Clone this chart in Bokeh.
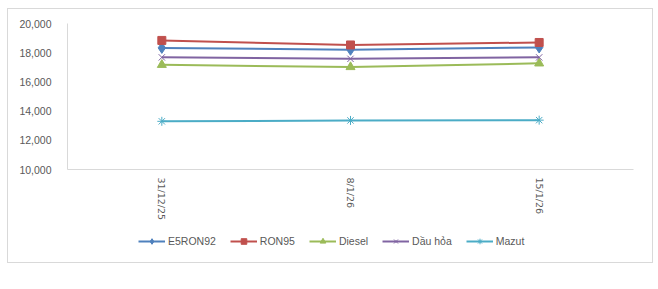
from bokeh.plotting import figure
from bokeh.layouts import column
from bokeh.models import FactorRange, Range1d, FixedTicker, NumeralTickFormatter, Legend, LegendItem
from bokeh.embed import file_html
from bokeh.resources import INLINE

dates = ["31/12/25", "8/1/26", "15/1/26"]
e5ron92 = [18330, 18200, 18360]
ron95 = [18840, 18530, 18700]
diesel = [17170, 17020, 17270]
dau_hoa = [17680, 17580, 17680]
mazut = [13300, 13360, 13380]
y_ticks = [10000, 12000, 14000, 16000, 18000, 20000]

series = [
    ("E5RON92", e5ron92, "#4F81BD", "diamond", 11),
    ("RON95", ron95, "#C0504D", "square", 8),
    ("Diesel", diesel, "#9BBB59", "triangle", 9),
    ("Dầu hỏa", dau_hoa, "#8064A2", "x", 9),
    ("Mazut", mazut, "#4BACC6", "asterisk", 9),
]

p = figure(width=644, height=220, x_range=FactorRange(*dates), y_range=Range1d(10000, 20000),
           output_backend="svg", toolbar_location=None,
           min_border_left=59, min_border_right=19, min_border_top=14, min_border_bottom=60)
p.outline_line_color = None
p.xgrid.visible = False
p.ygrid.visible = False

# legend strip below the chart (its renderers sit outside its visible range)
p2 = figure(width=644, height=33, x_range=Range1d(0, 1), y_range=Range1d(0, 1),
            output_backend="svg", toolbar_location=None, x_axis_type=None, y_axis_type=None,
            min_border=0)
p2.outline_line_color = None
p2.xgrid.visible = False
p2.ygrid.visible = False

items = []
for name, vals, color, marker, size in series:
    p.line(dates, vals, line_color=color, line_width=2)
    kw = dict(marker=marker, size=size, line_color=color)
    if marker in ("x", "asterisk"):
        kw.update(line_width=1, fill_color=None)
    else:
        kw.update(fill_color=color)
    p.scatter(dates, vals, **kw)
    lr2 = p2.line(x=vals, y=vals, line_color=color, line_width=2)
    sr2 = p2.scatter(x=vals, y=vals, **{**kw, "size": min(size, 7)})
    items.append(LegendItem(label=name, renderers=[lr2, sr2]))

p.yaxis.ticker = FixedTicker(ticks=y_ticks)
p.yaxis.formatter = NumeralTickFormatter(format="0,0")
for ax in (p.xaxis[0], p.yaxis[0]):
    ax.axis_line_color = "#D9D9D9"
    ax.major_tick_line_color = None
    ax.minor_tick_line_color = None
    ax.major_tick_out = 0
    ax.major_label_text_color = "#595959"
p.yaxis.major_label_text_font = "Liberation Sans"
p.yaxis.major_label_text_font_size = "10.5px"
p.yaxis.major_label_standoff = 16
p.xaxis.major_label_orientation = "vertical"
p.xaxis.major_label_text_font = "DejaVu Sans"
p.xaxis.major_label_text_font_size = "9.5px"
p.xaxis.major_label_standoff = 8

legend = Legend(items=items, orientation="horizontal", location=(71, 14),
                border_line_color=None, background_fill_alpha=0,
                glyph_width=27, glyph_height=14, label_standoff=3, spacing=14,
                padding=0, margin=0, label_text_font="Liberation Sans",
                label_text_font_size="10.5px", label_text_color="#595959")
p2.add_layout(legend)

layout = column(p, p2, spacing=0)
layout.margin = (9, 0, 0, 8)
layout.styles = {"outline": "1px solid #D9D9D9"}

open("out.html", "w").write(file_html(layout, INLINE))
